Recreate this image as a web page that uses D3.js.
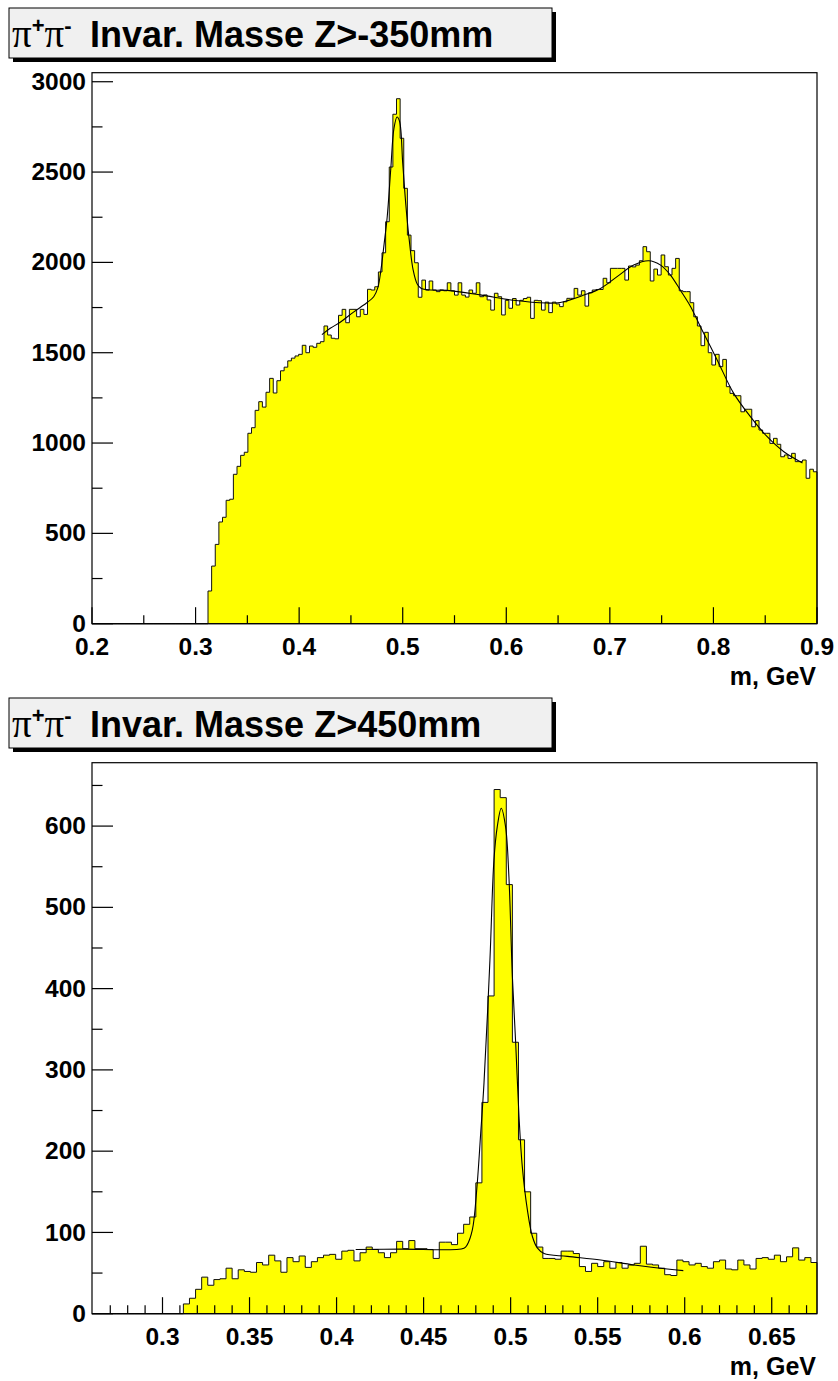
<!DOCTYPE html>
<html><head><meta charset="utf-8">
<script src="https://cdn.jsdelivr.net/npm/d3@7"></script>
<style>body{margin:0;background:#fff}</style>
</head><body>
<svg id="c" width="838" height="1381" xmlns="http://www.w3.org/2000/svg"></svg>
<script>
// ---- data ----
const binLow = 0.2, binWidth = 0.0035, firstFilledBin = 32;

const topCounts = [181,319,439,563,589,683,689,827,871,932,949,1054,1085,1181,1229,1199,1281,1358,1277,1345,
 1400,1420,1455,1470,
 1482,1491,1541,1500,1537,1530,1552,1561,1648,1598,1580,1577,1707,1740,1666,1740,1740,1699,1740,1712,1851,1847,1865,1947,2053,2225,2528,2820,2906,2687,2410,2151,2065,1998,1807,1902,
 1847,1897,1847,1838,1847,1843,1887,1843,1819,1887,1819,1808,1847,1829,1887,1810,1820,1792,1736,1829,1810,1709,1790,1746,1800,1764,1790,1800,1807,1690,1790,1788,1736,1780,1722,1780,
 1770,1755,1782,1801,1801,1856,1819,1843,1758,1832,1847,1850,1850,1912,1887,1967,1967,1967,1967,1902,1980,1975,1985,2009,2087,2059,1897,1963,1930,2041,1976,1930,1967,2022,1843,1838,1838,1777,1699,1648,1539,1613,1500,1432,1491,1423,1463,1312,1275,1262,1262,1173,1187,1187,1090,1124,1072,1054,1054,998,1026,993,924,934,915,943,897,897,906,805,855,841];

const bottomCounts = [12,19,30,45,35,42,43,56,43,54,52,51,63,60,72,65,51,69,64,71,57,64,69,72,73,67,77,78,65,75,82,79,75,69,75,89,80,90,80,
 80,79,68,88,88,85,99,110,119,
 161,260,391,645,635,528,334,
 214,150,99,82,68,68,67,77,77,74,58,52,62,58,64,56,63,56,60,62,83,61,60,56,48,47,66,64,60,62,58,56,64,66,55,54,66,60,55,68,69,67,72,64,70,81,66,69,63];

const topFit = [[0.422,1600],[0.430,1635],[0.440,1670],[0.4525,1725],[0.465,1775],[0.472,1810],[0.476,1860],[0.479,1960],[0.482,2100],[0.485,2250],[0.4885,2520],[0.4915,2740],[0.4945,2805],[0.497,2780],[0.500,2550],[0.503,2320],[0.506,2140],[0.510,1960],[0.514,1880],[0.518,1855],[0.527,1847],[0.543,1845],[0.575,1820],[0.607,1790],[0.639,1775],[0.652,1778],[0.675,1819],[0.691,1856],[0.707,1921],[0.723,1985],[0.7375,2009],[0.749,1985],[0.7585,1930],[0.768,1847],[0.778,1755],[0.7874,1644],[0.8036,1460],[0.8196,1275],[0.8357,1146],[0.8519,1035],[0.868,952],[0.886,890]];

const bottomFit = [[0.411,79],[0.437,79.5],[0.4732,80.6],[0.4751,85],[0.478,103],[0.4805,152],[0.4828,222],[0.4847,284],[0.4881,435],[0.4904,558],[0.4923,599],[0.4946,622],[0.4971,599],[0.499,538],[0.501,415],[0.5029,333],[0.5048,243],[0.5067,181],[0.5096,128],[0.5125,95],[0.5153,81],[0.5192,74],[0.5326,70.5],[0.5517,66],[0.5709,60],[0.59,55],[0.5992,53]];

const topXMajor = [0.2,0.3,0.4,0.5,0.6,0.7,0.8,0.9];
const topXLabels = ["0.2","0.3","0.4","0.5","0.6","0.7","0.8","0.9"];
const topXMinor = [0.25,0.35,0.45,0.55,0.65,0.75,0.85];
const topYMajor = [0,500,1000,1500,2000,2500,3000];
const topYMinor = [250,750,1250,1750,2250,2750];

const botXMajor = [0.3,0.35,0.4,0.45,0.5,0.55,0.6,0.65];
const botXLabels = ["0.3","0.35","0.4","0.45","0.5","0.55","0.6","0.65"];
const botXMinor = [0.27,0.28,0.29,0.31,0.32,0.33,0.34,0.36,0.37,0.38,0.39,0.41,0.42,0.43,0.44,0.46,0.47,0.48,0.49,0.51,0.52,0.53,0.54,0.56,0.57,0.58,0.59,0.61,0.62,0.63,0.64,0.66,0.67];
const botYMajor = [0,100,200,300,400,500,600];
const botYMinor = [50,150,250,350,450,550,650];

const titles = ["Z>-350mm","Z>450mm"];
const xTitle = "m, GeV";

// ---- drawing ----
const svg = d3.select("#c");
svg.append("rect").attr("width",838).attr("height",1381).attr("fill","#fff");
const SANS = "'Liberation Sans', Arial, Helvetica, sans-serif";
const SERIF = "'Liberation Serif', 'Times New Roman', serif";

function panel(o){
  const g = svg.append("g").attr("transform",`translate(0,${o.dy})`);
  const L=92, R=817, T=72.7, B=623.7;
  const x = d3.scaleLinear().domain([binLow+o.k0*binWidth, binLow+o.k1*binWidth]).range([L,R]);
  const y = d3.scaleLinear().domain([0,o.ymax]).range([B,T]);

  // title box
  g.append("rect").attr("x",13).attr("y",12).attr("width",543).attr("height",50).attr("fill","#000");
  g.append("rect").attr("x",9).attr("y",8).attr("width",543).attr("height",50).attr("fill","#f0f0f0").attr("stroke","#000").attr("stroke-width",1);
  const t = g.append("text").attr("x",12).attr("y",47).attr("font-family",SANS).attr("font-weight","bold").attr("font-size",36).attr("fill","#000");
  t.append("tspan").attr("font-family",SERIF).attr("font-weight","normal").attr("font-size",39).text("π");
  t.append("tspan").attr("font-size",22).attr("dy",-14).text("+");
  t.append("tspan").attr("font-family",SERIF).attr("font-weight","normal").attr("font-size",39).attr("dy",14).text("π");
  t.append("tspan").attr("font-size",22).attr("dy",-14).text("-");
  t.append("tspan").attr("x",90).attr("dy",14).text("Invar. Masse " + o.title);

  // histogram
  let d = `M${x(binLow+o.k0*binWidth)},${y(0)}`;
  for(let k=o.k0;k<o.k1;k++){
    const i = k-firstFilledBin;
    const v = (i>=0 && i<o.counts.length)? o.counts[i] : 0;
    d += `L${x(binLow+k*binWidth)},${y(v)}L${x(binLow+(k+1)*binWidth)},${y(v)}`;
  }
  d += `L${x(binLow+o.k1*binWidth)},${y(0)}Z`;
  g.append("path").attr("d",d).attr("fill","#ffff00").attr("stroke","#111").attr("stroke-width",1).attr("stroke-linejoin","miter");

  // fit
  g.append("path").datum(o.fit)
    .attr("d",d3.line().x(p=>x(p[0])).y(p=>y(p[1])).curve(d3.curveCatmullRom))
    .attr("fill","none").attr("stroke","#000").attr("stroke-width",1.1);

  // frame
  g.append("rect").attr("x",L).attr("y",T).attr("width",R-L).attr("height",B-T).attr("fill","none").attr("stroke","#000").attr("stroke-width",1.2);

  // ticks
  const tk = g.append("g").attr("stroke","#000").attr("stroke-width",1.2);
  o.yMajor.forEach(v=>tk.append("line").attr("x1",L).attr("x2",L+21).attr("y1",y(v)).attr("y2",y(v)));
  o.yMinor.forEach(v=>tk.append("line").attr("x1",L).attr("x2",L+10.5).attr("y1",y(v)).attr("y2",y(v)));
  o.xMajor.forEach(v=>tk.append("line").attr("x1",x(v)).attr("x2",x(v)).attr("y1",B).attr("y2",B-16.5));
  o.xMinor.forEach(v=>tk.append("line").attr("x1",x(v)).attr("x2",x(v)).attr("y1",B).attr("y2",B-8.5));

  // labels
  const lab = g.append("g").attr("font-family",SANS).attr("font-weight","bold").attr("font-size",24.5).attr("fill","#000");
  o.yMajor.forEach(v=>lab.append("text").attr("x",86).attr("y",y(v)).attr("dy","0.33em").attr("text-anchor","end").text(String(v)));
  o.xMajor.forEach((v,i)=>lab.append("text").attr("x",x(v)).attr("y",B+31).attr("text-anchor","middle").text(o.xLabels[i]));
  lab.append("text").attr("x",816).attr("y",B+61).attr("font-size",25).attr("text-anchor","end").text(xTitle);
}

panel({dy:0, k0:0, k1:200, ymax:3050, counts:topCounts, fit:topFit, title:titles[0],
  xMajor:topXMajor, xLabels:topXLabels, xMinor:topXMinor, yMajor:topYMajor, yMinor:topYMinor});
panel({dy:690, k0:17, k1:136, ymax:678, counts:bottomCounts, fit:bottomFit, title:titles[1],
  xMajor:botXMajor, xLabels:botXLabels, xMinor:botXMinor, yMajor:botYMajor, yMinor:botYMinor});
</script>
</body></html>
